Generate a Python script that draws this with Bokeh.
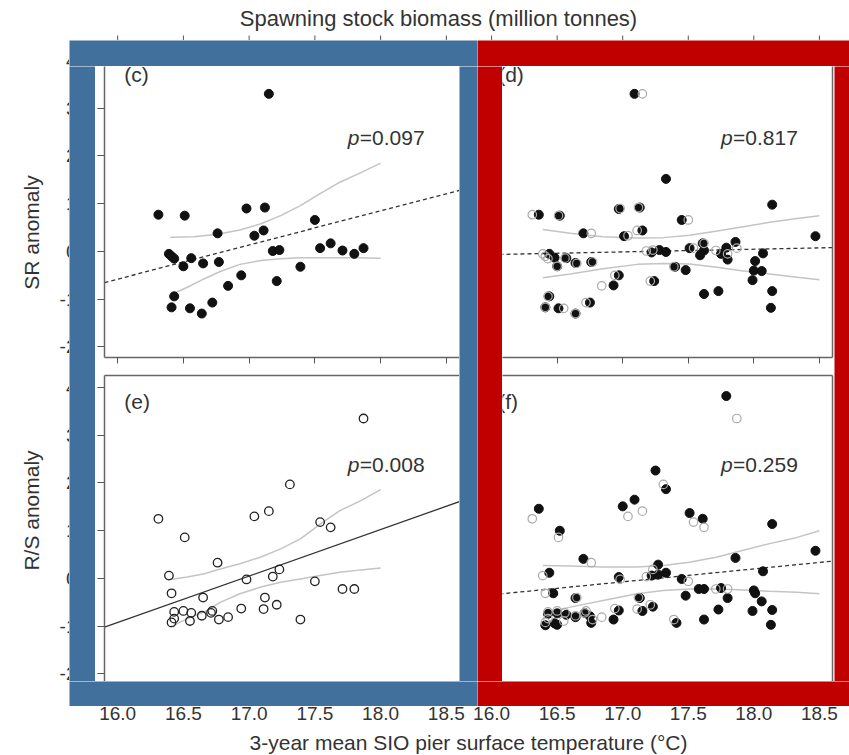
from bokeh.plotting import figure
from bokeh.models import Range1d, LinearAxis, FixedTicker, Label
from bokeh.layouts import column, row
from bokeh.embed import file_html
from bokeh.resources import INLINE
from bokeh.core.properties import value

# ---------------- data ----------------
x_ticks = [16.0, 16.5, 17.0, 17.5, 18.0, 18.5]
x_tick_labels = ["16.0", "16.5", "17.0", "17.5", "18.0", "18.5"]
y_ticks = [-2, -1, 0, 1, 2, 3, 4]
y_tick_labels = ["-2", "-1", "0", "1", "2", "3", "4"]

title_top = "Spawning stock biomass (million tonnes)"
title_bottom = "3-year mean SIO pier surface temperature (\u00b0C)"
title_sr = "SR anomaly"
title_rs = "R/S anomaly"

panel_letters = ["(c)", "(d)", "(e)", "(f)"]
p_values = ["=0.097", "=0.817", "=0.008", "=0.259"]

# (c) SR anomaly
c_temp = [17.15, 16.31, 16.51, 16.98, 17.12, 17.50, 16.76, 17.04, 17.11, 16.39, 16.41,
          16.43, 16.56, 16.50, 16.65, 16.77, 17.18, 17.23, 17.54, 17.62, 17.71, 17.80,
          17.87, 17.39, 17.21, 16.94, 16.84, 16.43, 16.41, 16.55, 16.64, 16.72]
c_sr = [3.30, 0.77, 0.75, 0.90, 0.92, 0.66, 0.38, 0.33, 0.44, -0.05, -0.10,
        -0.15, -0.14, -0.31, -0.25, -0.22, 0.01, 0.03, 0.07, 0.17, 0.02, -0.05,
        0.07, -0.32, -0.62, -0.50, -0.72, -0.94, -1.17, -1.19, -1.30, -1.07]

# (d) SR anomaly, second series (filled)
d_temp = [17.09, 17.33, 16.36, 16.52, 16.97, 17.13, 17.45, 18.14, 18.47, 16.70, 17.01,
          17.15, 16.44, 16.48, 16.57, 16.50, 16.64, 16.76, 17.22, 17.28, 17.33, 17.51,
          17.61, 17.62, 17.59, 17.75, 17.79, 17.86, 17.80, 18.07, 18.01, 18.00, 18.06,
          17.99, 18.14, 18.13, 17.40, 17.48, 16.97, 16.93, 17.24, 17.62, 17.73, 16.44,
          16.41, 16.51, 16.64, 16.75]
d_sr = [3.30, 1.52, 0.77, 0.75, 0.89, 0.92, 0.66, 0.98, 0.32, 0.38, 0.32,
        0.44, -0.05, -0.13, -0.14, -0.31, -0.24, -0.22, -0.02, 0.03, -0.01, 0.07,
        0.17, 0.02, -0.08, -0.05, 0.08, 0.20, -0.17, -0.04, -0.20, -0.40, -0.41,
        -0.60, -0.83, -1.18, -0.32, -0.39, -0.50, -0.71, -0.62, -0.89, -0.83, -0.94,
        -1.17, -1.19, -1.30, -1.07]

# (e) R/S anomaly
e_temp = [17.87, 17.31, 17.15, 17.04, 16.31, 16.51, 17.54, 17.62, 16.76, 16.39, 17.23,
          17.18, 16.98, 17.50, 17.71, 17.80, 16.41, 16.65, 17.12, 17.21, 16.94, 17.11,
          16.43, 16.50, 16.56, 16.72, 16.71, 16.64, 16.84, 16.77, 16.43, 16.55, 16.41,
          17.39]
e_rs = [3.35, 1.97, 1.41, 1.30, 1.25, 0.86, 1.18, 1.07, 0.33, 0.06, 0.19,
        0.04, -0.02, -0.06, -0.22, -0.22, -0.31, -0.40, -0.40, -0.55, -0.63, -0.64,
        -0.70, -0.68, -0.72, -0.68, -0.72, -0.78, -0.81, -0.86, -0.84, -0.89, -0.92,
        -0.86]

# (f) R/S anomaly, second series (filled)
f_temp = [17.79, 17.25, 17.33, 16.36, 17.00, 17.09, 17.51, 17.61, 16.52, 18.14, 18.47,
          17.86, 16.70, 17.27, 16.44, 17.22, 17.27, 17.33, 16.97, 17.45, 18.07, 16.47,
          17.48, 17.58, 17.62, 17.75, 18.00, 18.01, 17.80, 16.64, 17.13, 18.06, 17.23,
          17.15, 16.97, 17.73, 17.99, 18.14, 16.43, 16.50, 16.57, 16.64, 16.71, 16.75,
          16.76, 16.41, 16.48, 16.50, 16.93, 17.41, 17.62, 18.13]
f_rs = [3.82, 2.26, 1.87, 1.46, 1.51, 1.65, 1.37, 1.25, 1.00, 1.14, 0.58,
        0.43, 0.41, 0.29, 0.12, 0.06, 0.08, 0.12, 0.03, -0.01, 0.15, -0.31,
        -0.36, -0.22, -0.22, -0.20, -0.25, -0.31, -0.41, -0.41, -0.41, -0.48, -0.59,
        -0.68, -0.67, -0.65, -0.68, -0.66, -0.74, -0.73, -0.76, -0.81, -0.72, -0.79,
        -0.93, -0.98, -0.94, -0.97, -0.86, -0.93, -0.86, -0.97]

# confidence bands
c_ci_up_x = [16.40, 16.58, 16.76, 16.93, 17.09, 17.24, 17.39, 17.54, 17.69, 17.85, 18.00]
c_ci_up = [0.30, 0.31, 0.36, 0.45, 0.58, 0.75, 0.96, 1.21, 1.45, 1.65, 1.85]
c_ci_lo_x = [16.41, 16.53, 16.66, 16.78, 16.93, 17.09, 17.24, 17.39, 17.59, 17.80, 18.00]
c_ci_lo = [-0.90, -0.75, -0.57, -0.42, -0.27, -0.19, -0.15, -0.13, -0.13, -0.13, -0.14]

d_ci_x = [16.39, 16.60, 16.85, 17.11, 17.31, 17.51, 17.72, 17.92, 18.12, 18.33, 18.50]
d_ci_up = [0.46, 0.38, 0.31, 0.28, 0.29, 0.34, 0.43, 0.52, 0.61, 0.69, 0.75]
d_ci_lo = [-0.55, -0.47, -0.36, -0.27, -0.25, -0.26, -0.33, -0.41, -0.47, -0.54, -0.59]

e_ci_x = [16.40, 16.53, 16.66, 16.78, 16.93, 17.09, 17.24, 17.39, 17.54, 17.69, 17.85, 18.00]
e_ci_up = [-0.02, 0.03, 0.10, 0.20, 0.31, 0.45, 0.62, 0.83, 1.14, 1.42, 1.63, 1.86]
e_ci_lo = [-1.02, -0.84, -0.70, -0.50, -0.32, -0.18, -0.08, -0.01, 0.06, 0.13, 0.18, 0.22]

f_ci_up_x = [16.39, 16.60, 16.85, 17.11, 17.31, 17.51, 17.72, 17.92, 18.12, 18.33, 18.50]
f_ci_up = [0.27, 0.26, 0.24, 0.24, 0.27, 0.34, 0.45, 0.59, 0.73, 0.86, 1.00]
f_ci_lo_x = [16.42, 16.60, 16.85, 17.11, 17.31, 17.51, 17.72, 17.92, 18.12, 18.33, 18.50]
f_ci_lo = [-0.70, -0.60, -0.46, -0.32, -0.25, -0.22, -0.22, -0.24, -0.27, -0.29, -0.32]

# regression fits: slope, value at 17.0 degC
fit_c = (0.715, 0.136)
fit_d = (0.056, -0.009)
fit_e = (0.974, 0.051)
fit_f = (0.271, -0.071)

# ---------------- styling / geometry ----------------
FONT = "Liberation Sans"
TXT = "#333333"
BLUE = "#41709C"
RED = "#C00000"
AX = "#666666"
XR = (15.9, 18.6)          # panel x range
YR = (-2.22, 4.25)         # panel y range
W, H = 849, 755

# full panel frames in page pixels (left, right, top, bottom)
FR_L = (104, 459)          # left column frame x
FR_R = (478, 832)          # right column frame x
FR_T = (48, 357)           # top row frame y
FR_B = (375, 684)          # bottom row frame y
PXU = (FR_T[1] - FR_T[0]) / (YR[1] - YR[0])       # px per y unit

# highlight frames: outer/inner edges in page pixels
OUT_T, IN_T, IN_B, OUT_B = 40, 66, 681, 706
B_OUT_L, B_IN_L, B_IN_R, MID = 69, 95, 459, 477
R_IN_L, R_IN_R = 502, 834


def xmap(frame, px):
    return XR[0] + (px - frame[0]) * (XR[1] - XR[0]) / (frame[1] - frame[0])


def ymap(frame, py):
    return YR[1] - (py - frame[0]) / PXU


def axis(p, side, tick_out, line=True):
    ticks = x_ticks if side in ("below", "above") else y_ticks
    ax = LinearAxis(ticker=FixedTicker(ticks=ticks))
    ax.axis_line_color = AX if line else None
    ax.axis_line_width = 1.5
    ax.major_tick_line_color = "#555555" if tick_out > 0 else None
    ax.major_tick_line_width = 1
    ax.major_tick_in = 0
    ax.major_tick_out = tick_out
    ax.minor_tick_line_color = None
    ax.major_label_overrides = {t: "" for t in ticks}
    ax.major_label_text_font_size = "1px"
    ax.major_label_standoff = 0
    p.add_layout(ax, side)


def panel(width, height, fx, fy, px_box):
    # px_box: canvas extent in page pixels (left, right, top, bottom)
    l, r, t, b = px_box
    bl, br = max(fx[0] - l, 0), max(r - fx[1], 0)
    bt, bb = max(fy[0] - t, 0), max(b - fy[1], 0)
    x0 = xmap(fx, max(fx[0], l))
    x1 = xmap(fx, min(fx[1], r))
    y1 = ymap(fy, max(fy[0], t))
    y0 = ymap(fy, min(fy[1], b))
    p = figure(width=width, height=height, x_range=Range1d(x0, x1), y_range=Range1d(y0, y1),
               output_backend="svg", toolbar_location=None, tools="", title=None,
               x_axis_location=None, y_axis_location=None,
               min_border_left=bl, min_border_right=br, min_border_top=bt, min_border_bottom=bb)
    p.grid.grid_line_color = None
    p.outline_line_color = None
    p.background_fill_color = "white"
    p.border_fill_color = "white"
    return p


def fit_line(p, fit, dash):
    m, b = fit
    xs = list(XR)
    ys = [b + m * (x - 17.0) for x in xs]
    p.line(xs, ys, line_color="#333333", line_width=1.3, line_dash=dash)


def texts(p, letter, pval):
    p.add_layout(Label(x=16.05, y=3.70, text=letter, text_font=FONT, text_font_size="21px",
                       text_color=TXT, text_baseline="middle"))
    p.add_layout(Label(x=17.75, y=2.38, text="p", text_font=FONT, text_font_size="21px",
                       text_font_style="italic", text_color=TXT, text_baseline="middle"))
    p.add_layout(Label(x=17.75, y=2.38, x_offset=12, text=pval, text_font=FONT,
                       text_font_size="21px", text_color=TXT, text_baseline="middle"))


CI = dict(line_color="#c4c4c4", line_width=1.5)
LW = B_IN_R - B_IN_L          # left interior width
RW = R_IN_R - R_IN_L          # right interior width
TH = 366 - IN_T               # top row height
BH = IN_B - 366               # bottom row height

# ---- (c)
pc = panel(LW, TH, FR_L, FR_T, (B_IN_L, B_IN_R, IN_T, 366))
axis(pc, "left", 7)
axis(pc, "below", 6)
pc.line(c_ci_up_x, c_ci_up, **CI)
pc.line(c_ci_lo_x, c_ci_lo, **CI)
fit_line(pc, fit_c, "4 3")
pc.scatter(c_temp, c_sr, size=9, marker="circle", fill_color="#111111", line_color="#111111")
texts(pc, panel_letters[0], p_values[0])

# ---- (d)
pd_ = panel(RW, TH, FR_R, FR_T, (R_IN_L, R_IN_R, IN_T, 366))
axis(pd_, "right", 0)
axis(pd_, "below", 6)
pd_.line(d_ci_x, d_ci_up, **CI)
pd_.line(d_ci_x, d_ci_lo, **CI)
fit_line(pd_, fit_d, "4 3")
pd_.scatter(d_temp, d_sr, size=9, marker="circle", fill_color="#111111", line_color="#111111")
pd_.scatter(c_temp, c_sr, size=8.5, marker="circle", fill_color=None, line_color="#aaaaaa",
            line_width=1.2)
texts(pd_, panel_letters[1], p_values[1])

# ---- (e)
pe = panel(LW, BH, FR_L, FR_B, (B_IN_L, B_IN_R, 366, IN_B))
axis(pe, "left", 7)
axis(pe, "above", 0)
pe.line(e_ci_x, e_ci_up, **CI)
pe.line(e_ci_x, e_ci_lo, **CI)
fit_line(pe, fit_e, "solid")
pe.scatter(e_temp, e_rs, size=8.5, marker="circle", fill_color=None, line_color="#222222",
           line_width=1.3)
texts(pe, panel_letters[2], p_values[2])

# ---- (f)
pf = panel(RW, BH, FR_R, FR_B, (R_IN_L, R_IN_R, 366, IN_B))
axis(pf, "right", 0)
axis(pf, "above", 0)
pf.line(f_ci_up_x, f_ci_up, **CI)
pf.line(f_ci_lo_x, f_ci_lo, **CI)
fit_line(pf, fit_f, "4 3")
pf.scatter(f_temp, f_rs, size=9, marker="circle", fill_color="#111111", line_color="#111111")
pf.scatter(e_temp, e_rs, size=8.5, marker="circle", fill_color=None, line_color="#aaaaaa",
           line_width=1.2)
texts(pf, panel_letters[3], p_values[3])


def strip(width, height, xr, yr, color="white"):
    s = figure(width=width, height=height, x_range=Range1d(*xr), y_range=Range1d(*yr),
               output_backend="svg", toolbar_location=None, tools="", title=None,
               x_axis_location=None, y_axis_location=None,
               min_border_left=0, min_border_right=0, min_border_top=0, min_border_bottom=0)
    s.grid.grid_line_color = None
    s.outline_line_color = None
    s.background_fill_color = color
    s.border_fill_color = color
    return s


def band(width, height, color):
    return strip(width, height, (0, 1), (0, 1), color)


def col_ranges():
    # page-pixel x extent 0..W expressed in each column's temperature scale
    return {"L": Range1d(xmap(FR_L, 0), xmap(FR_L, W)),
            "R": Range1d(xmap(FR_R, 0), xmap(FR_R, W))}


# ---- top strip: title and tick stubs of the panels above
top = strip(W, OUT_T, (0, W), (OUT_T, 0))
top.extra_x_ranges = col_ranges()
top.add_layout(Label(x=438, y=18, text=title_top, text_font=FONT, text_font_size="22px",
                     text_color=TXT, text_align="center", text_baseline="middle"))
for rn in ("L", "R"):
    top.segment(x0=x_ticks, y0=[35] * len(x_ticks), x1=x_ticks, y1=[OUT_T] * len(x_ticks),
                x_range_name=rn, line_color="#555555", line_width=1)

# ---- left strip: y titles and (mostly hidden) y tick labels
left = strip(B_OUT_L, OUT_B - OUT_T, (0, B_OUT_L), (OUT_B, OUT_T))
left.extra_y_ranges = {
    "top": Range1d(ymap(FR_T, OUT_B), ymap(FR_T, OUT_T)),
    "bot": Range1d(ymap(FR_B, OUT_B), ymap(FR_B, OUT_T)),
}
LABEL_RIGHT = 76
for rn in ("top", "bot"):
    left.text(x=[LABEL_RIGHT] * len(y_ticks), y=y_ticks, text=y_tick_labels, y_range_name=rn,
              text_align="right", text_baseline="middle", text_font=value(FONT),
              text_font_size="19px", text_color=TXT)
left.add_layout(Label(x=31, y=232, text=title_sr, angle=90, angle_units="deg",
                      text_font=FONT, text_font_size="21px", text_color=TXT,
                      text_align="center", text_baseline="middle"))
left.add_layout(Label(x=31, y=510, text=title_rs, angle=90, angle_units="deg",
                      text_font=FONT, text_font_size="21px", text_color=TXT,
                      text_align="center", text_baseline="middle"))

# ---- bottom strip: x tick labels and x title
bottom = strip(W, H - OUT_B, (0, W), (H, OUT_B))
bottom.extra_x_ranges = col_ranges()
for rn in ("L", "R"):
    bottom.text(x=x_ticks, y=[713] * len(x_ticks), text=x_tick_labels, x_range_name=rn,
                text_align="center", text_baseline="middle", text_font=value(FONT),
                text_font_size="19px", text_color=TXT)
bottom.add_layout(Label(x=468, y=742, text=title_bottom, text_font=FONT, text_font_size="21px",
                        text_color=TXT, text_align="center", text_baseline="middle"))

# ---- highlight frames assembled from bands
band_top = row(band(MID - B_OUT_L, IN_T - OUT_T, BLUE), band(W - MID, IN_T - OUT_T, RED))
band_bot = row(band(MID - B_OUT_L, OUT_B - IN_B, BLUE), band(W - MID, OUT_B - IN_B, RED))
mid = row(
    band(B_IN_L - B_OUT_L, IN_B - IN_T, BLUE),
    column(pc, pe),
    band(MID - B_IN_R, IN_B - IN_T, BLUE),
    band(R_IN_L - MID, IN_B - IN_T, RED),
    column(pd_, pf),
    band(W - R_IN_R, IN_B - IN_T, RED),
)

layout = column(top, row(left, column(band_top, mid, band_bot)), bottom)

open("out.html", "w").write(file_html(layout, INLINE))
